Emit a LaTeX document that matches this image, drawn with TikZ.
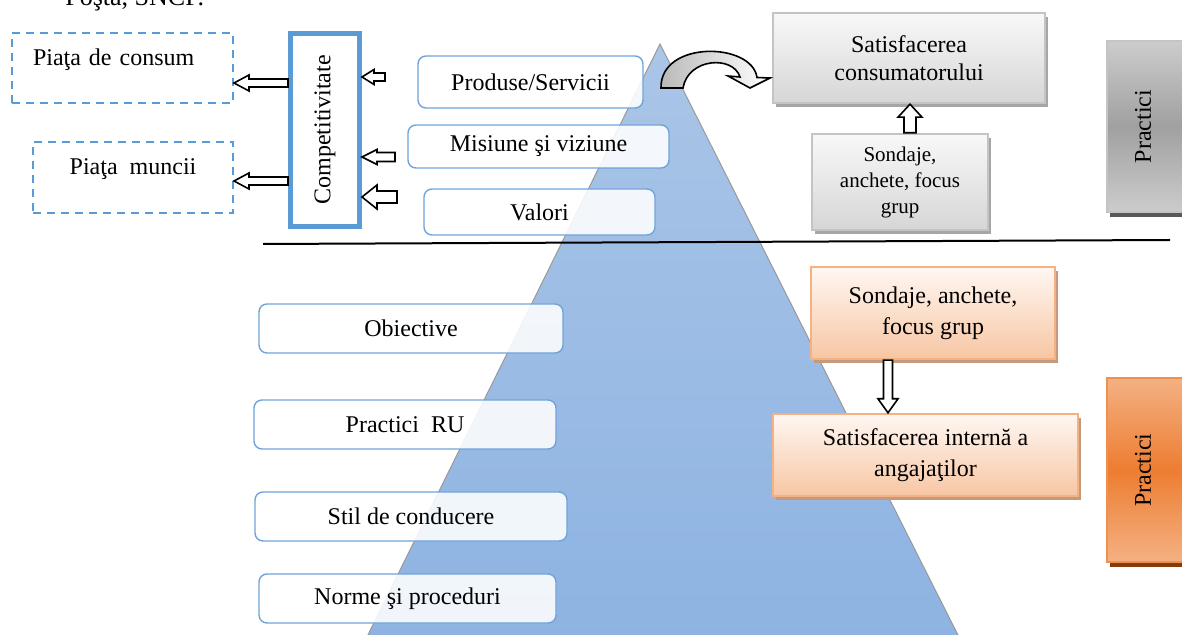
\documentclass[tikz,border=0pt]{standalone}
\usepackage{fontspec}
\setmainfont{Liberation Serif}
\usetikzlibrary{shadows,calc}
\definecolor{tri1}{HTML}{AAC5E7}
\definecolor{tri2}{HTML}{8DB3E2}
\definecolor{bl}{HTML}{5B9BD5}
\definecolor{rb}{HTML}{6FA3DA}
\definecolor{gb}{HTML}{C4C4C4}
\definecolor{gs}{HTML}{A6A6A6}
\definecolor{gtop}{HTML}{F8F8F8}
\definecolor{gbot}{HTML}{D6D6D6}
\definecolor{ob}{HTML}{F4B183}
\definecolor{ot}{HTML}{FFF7F2}
\definecolor{obot}{HTML}{F7C6A3}
\definecolor{os}{HTML}{C49A7C}
\definecolor{orr}{HTML}{ED7D31}
\definecolor{orl}{HTML}{F4B183}
\definecolor{ords}{HTML}{843C0C}
\definecolor{pg1}{HTML}{CCCCCC}
\definecolor{pg2}{HTML}{A0A0A0}
\definecolor{pgs}{HTML}{595959}
\newcommand\larrow[5]{\draw[blk] let \p1=#1, \p2=#2 in
  ({\x1},{\y1+#3}) -- ({\x2+#5},{\y1+#3}) -- ({\x2+#5},{\y1+#4}) -- ({\x2},{\y1}) --
  ({\x2+#5},{\y1-#4}) -- ({\x2+#5},{\y1-#3}) -- ({\x1},{\y1-#3}) -- cycle;}
\newcommand\varrow[6]{\draw[blk] let \p1=#1, \p2=#2, \n1={\y2-(#6)*#5} in
  ({\x1-#3},{\y1}) -- ({\x1-#3},{\n1}) -- ({\x1-#4},{\n1}) -- ({\x1},{\y2}) --
  ({\x1+#4},{\n1}) -- ({\x1+#3},{\n1}) -- ({\x1+#3},{\y1}) -- cycle;}
\tikzset{
  rbox/.style={draw=rb, line width=0.7pt, rounded corners=4pt, fill=white,
    fill opacity=0.88, text opacity=1, inner sep=0pt},
  dbox/.style={draw=bl, dash pattern=on 4pt off 3pt, line width=1pt, inner sep=0pt},
  gbox/.style={draw=gb, line width=1.2pt, top color=gtop, bottom color=gbot,
    general shadow={fill=gs, shadow xshift=1.5pt, shadow yshift=-2pt},
    align=center, inner sep=0pt, font=\fontsize{12}{14}\selectfont},
  obox/.style={draw=ob, line width=1.2pt, top color=ot, bottom color=obot,
    general shadow={fill=os, shadow xshift=1.5pt, shadow yshift=-2pt},
    align=center, inner sep=0pt, font=\fontsize{12}{15.5}\selectfont},
  pgray/.style={draw=gb, line width=1.2pt, top color=pg1, bottom color=pg1, middle color=pg2,
    general shadow={fill=pgs, shadow xshift=1.5pt, shadow yshift=-2.5pt}, inner sep=0pt},
  porange/.style={draw=orr!85!white, line width=1.2pt, top color=orl, bottom color=orl, middle color=orr,
    general shadow={fill=ords, shadow xshift=1.5pt, shadow yshift=-2.5pt}, inner sep=0pt},
  blk/.style={draw=black, fill=white, line width=0.8pt, line join=miter},
}
\begin{document}
\begin{tikzpicture}[x=0.5pt, y=-0.5pt, font=\fontsize{12}{14}\selectfont]
\useasboundingbox (0,0) rectangle (1182,635);
% pyramid
\coordinate (apex) at (660,44);
\path[draw=gray!80, line width=0.5pt, top color=tri1, bottom color=tri2]
  (apex) -- (963,645) -- (363,645) -- cycle;
% cut text at top
\node[anchor=base west, inner sep=0pt, font=\fontsize{13}{15}\selectfont] (cut) at (65,6) {Poşta, SNCF.};
% separator line
\draw[line width=1pt] (263,244) -- (1170,240);
% competitivitate
\node[draw=bl, line width=2.5pt, minimum width=34.5pt, minimum height=96.5pt, inner sep=0pt]
  (comp) at (325,130) {\rotatebox{90}{Competitivitate}};
% dashed boxes
\node[dbox, minimum height=35pt, text width=89.5pt, inner xsep=10.5pt, align=left, text depth=11.2pt]
  (pc) at (122.5,68) {Piaţa de consum};
\node[dbox, minimum width=100pt, minimum height=35.5pt, text depth=10.7pt]
  (pm) at (133,177.5) {Piaţa\ \ muncii};
% rounded boxes
\node[rbox, minimum width=112.5pt, minimum height=26pt] (prod) at (530.5,82) {Produse/Servicii};
\node[rbox, minimum width=130.5pt, minimum height=21.5pt] (mis) at (538.5,146.5) {Misiune şi viziune};
\node[rbox, minimum width=115.5pt, minimum height=23pt] (val) at (539.5,212) {Valori};
\node[rbox, minimum width=152pt, minimum height=24.5pt] (obi) at (411,328.5) {Obiective};
\node[rbox, minimum width=151pt, minimum height=24.5pt] (pru) at (405,424.5) {Practici\ \ RU};
\node[rbox, minimum width=156pt, minimum height=24.5pt] (stil) at (411,516.5) {Stil de conducere};
\node[rbox, minimum width=148.5pt, minimum height=24.5pt] (norme) at (407.5,598.5) {Norme şi proceduri};
% arrows around competitivitate
\coordinate (y1) at (0,83);
\coordinate (y2) at (0,181);
\coordinate (s1) at (385,77);
\coordinate (s2) at (395,157);
\coordinate (s3) at (397,197);
\coordinate (xu) at (910,0);
\coordinate (xd) at (888,0);
\larrow{(comp.west |- y1)}{(pc.east |- y1)}{2pt}{4pt}{7.5pt}
\larrow{(comp.west |- y2)}{(pm.east |- y2)}{2pt}{4pt}{7.5pt}
\larrow{(s1)}{(comp.east |- s1)}{2pt}{3.75pt}{6pt}
\larrow{(s2)}{(comp.east |- s2)}{2.25pt}{3.75pt}{7.5pt}
\larrow{(s3)}{(comp.east |- s3)}{3pt}{6pt}{7.5pt}
% gray boxes
\node[gbox, minimum width=136pt, minimum height=45pt] (sc) at (909,58) {Satisfacerea\\consumatorului};
\node[gbox, minimum width=88pt, minimum height=48pt, font=\fontsize{10.5}{13}\selectfont]
  (sg) at (900,182) {Sondaje,\\anchete, focus\\grup};
\varrow{(xu |- sg.north)}{(xu |- sc.south)}{3pt}{6pt}{6.5pt}{1}
% curved arrow from pyramid to consumer satisfaction
\path[draw=black, line width=0.8pt, line join=miter, left color=gray!55, right color=white]
  (661,88) .. controls (660,40) and (752,42) .. (757,77.5) -- (770,78) -- (750,88)
  -- (728,76) -- (740,77) .. controls (733,55) and (688,58) .. (683,88) -- cycle;
% orange boxes
\node[obox, minimum width=122pt, minimum height=46pt] (so) at (933,313) {Sondaje, anchete,\\focus grup};
\node[obox, minimum width=152.5pt, minimum height=41pt] (si) at (925.5,455) {Satisfacerea internă a\\angajaţilor};
\varrow{(xd |- so.south)}{(xd |- si.north)}{2.25pt}{5pt}{7pt}{-1}
% practici side boxes (cut by the right edge)
\node[pgray, minimum width=44pt, minimum height=85.5pt] (pr1) at (1151,126.5) {\rotatebox{90}{Practici}\rule{8pt}{0pt}};
\node[porange, minimum width=44pt, minimum height=92pt] (pr2) at (1151,470) {\rotatebox{90}{Practici}\rule{8pt}{0pt}};
\end{tikzpicture}
\end{document}
